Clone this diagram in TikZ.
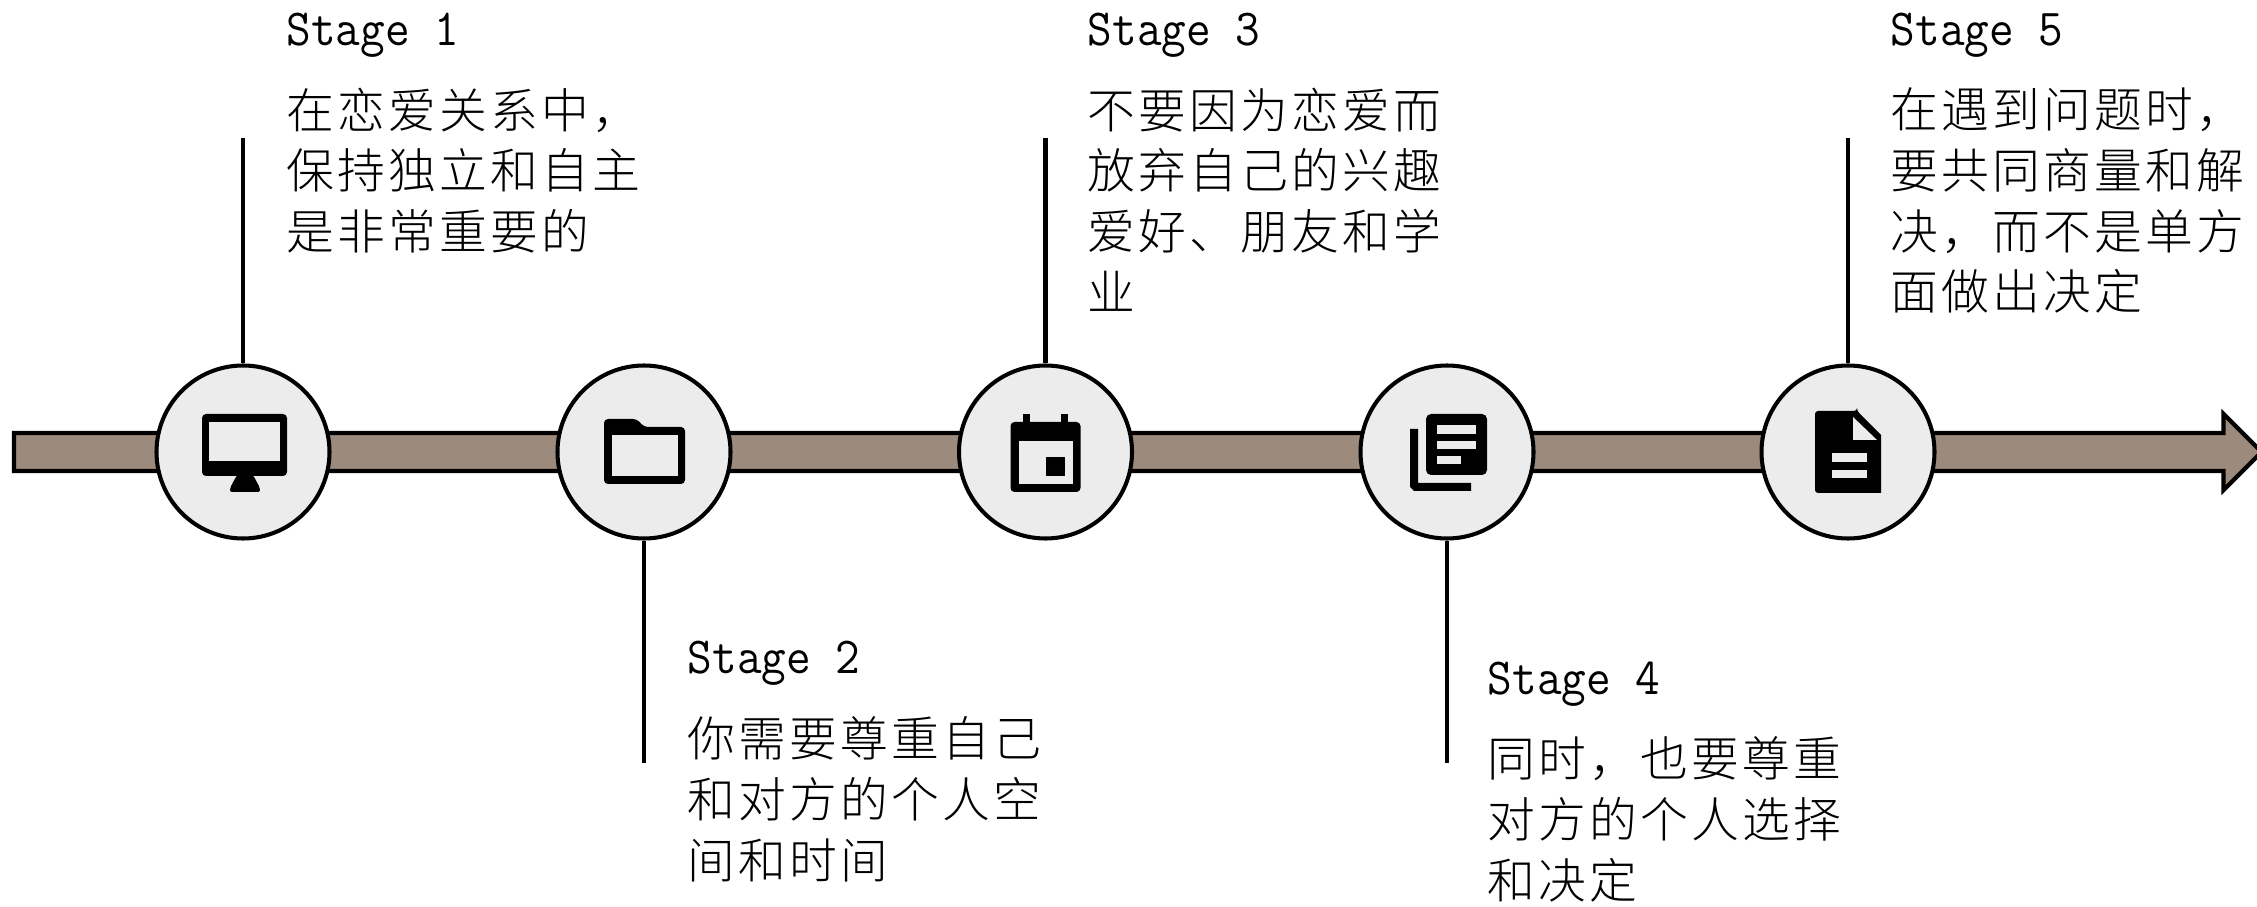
\documentclass[tikz,border=0pt]{standalone}
\usepackage{fontspec}
\newfontfamily\cjk[LetterSpace = 6.8]{Noto Sans CJK SC Light}
\newfontfamily\stagefont[FakeStretch = 0.92]{Latin Modern Mono}
\definecolor{barbrown}{HTML}{9C8B7C}
\definecolor{discgray}{HTML}{ECECEC}
\tikzset{
	disc/.style = {circle, draw, fill = discgray, line width = 1.15pt, minimum size = 1.73cm, inner sep = 0},
	stem/.style = {line width = 1.15pt},
	stagelabel/.style = {anchor = base west, inner sep = 0, font = \fontsize{14.8}{17}\selectfont\stagefont},
	bodytext/.style = {anchor = north west, inner sep = 0, align = left, font = \fontsize{13.6}{17.3}\selectfont\cjk},
	icon/.style = {x = 1mm, y = 1mm},
	hole/.style = {fill = discgray}
}

\begin{document}
\begin{tikzpicture}[> = latex]

	\useasboundingbox (0, 0) rectangle (22.57, 9.06);

	% Bar with arrow head

	\draw [fill = barbrown, line width = 1.2pt, line join = miter] (0.14, 4.35) -- (22.235, 4.35) -- (22.235, 4.16) -- (22.615, 4.54) -- (22.235, 4.92) -- (22.235, 4.73) -- (0.14, 4.73) -- cycle;

	% Discs

	\node [disc] (c1) at (2.43, 4.54) {};
	\node [disc] (c2) at (6.44, 4.54) {};
	\node [disc] (c3) at (10.455, 4.54) {};
	\node [disc] (c4) at (14.47, 4.54) {};
	\node [disc] (c5) at (18.48, 4.54) {};

	% Stems

	\coordinate (t1) at (2.43, 7.68);
	\coordinate (t2) at (6.44, 1.43);
	\coordinate (t3) at (10.455, 7.68);
	\coordinate (t4) at (14.47, 1.43);
	\coordinate (t5) at (18.48, 7.68);

	\draw [stem] (c1.north) -- (t1);
	\draw [stem] (c2.south) -- (t2);
	\draw [stem] (c3.north) -- (t3);
	\draw [stem] (c4.south) -- (t4);
	\draw [stem] (c5.north) -- (t5);

	% Labels

	\node [stagelabel] (s1) at (2.86, 8.60) {Stage 1};
	\node [stagelabel] (s2) at (6.87, 2.33) {Stage 2};
	\node [stagelabel] (s3) at (10.87, 8.60) {Stage 3};
	\node [stagelabel] (s4) at (14.87, 2.11) {Stage 4};
	\node [stagelabel] (s5) at (18.90, 8.60) {Stage 5};

	\node [bodytext] (b1) at (2.86, 8.19) {在恋爱关系中，\\保持独立和自主\\是非常重要的};
	\node [bodytext] (b2) at (6.87, 1.90) {你需要尊重自己\\和对方的个人空\\间和时间};
	\node [bodytext] (b3) at (10.87, 8.19) {不要因为恋爱而\\放弃自己的兴趣\\爱好、朋友和学\\业};
	\node [bodytext] (b4) at (14.87, 1.70) {同时，也要尊重\\对方的个人选择\\和决定};
	\node [bodytext] (b5) at (18.90, 8.19) {在遇到问题时，\\要共同商量和解\\决，而不是单方\\面做出决定};

	% Monitor

	\begin{scope} [shift = {(c1)}, icon]
		\fill [rounded corners = 0.4mm] (-4.1, 3.8) rectangle (4.4, -2.4);
		\fill [hole] (-3.4, 3.0) rectangle (3.7, -0.9);
		\fill [rounded corners = 0.2mm] (-0.6, -2.3) -- (1.0, -2.3) -- (1.7, -3.6) -- (1.7, -4.0) -- (-1.3, -4.0) -- (-1.3, -3.6) -- cycle;
	\end{scope}

	% Folder

	\begin{scope} [shift = {(c2)}, icon]
		\fill [rounded corners = 0.4mm] (-4.0, 3.3) -- (-0.7, 3.3) -- (0, 2.5) -- (4.1, 2.5) -- (4.1, -3.2) -- (-4.0, -3.2) -- cycle;
		\fill [hole] (-3.2, 1.7) rectangle (3.35, -2.4);
	\end{scope}

	% Calendar

	\begin{scope} [shift = {(c3)}, icon]
		\fill [rounded corners = 0.4mm] (-3.5, 3.0) rectangle (3.5, -4.0);
		\fill (-2.3, 3.8) rectangle (-1.6, 2.8);
		\fill (1.5, 3.8) rectangle (2.2, 2.8);
		\fill [hole] (-2.7, 1.1) rectangle (2.7, -3.2);
		\fill (0, -0.5) rectangle (1.9, -2.4);
	\end{scope}

	% Stacked document

	\begin{scope} [shift = {(c4)}, icon]
		\fill [rounded corners = 0.5mm] (-2.1, 3.8) rectangle (4.0, -2.3);
		\fill [hole] (-1.05, 2.7) rectangle (2.9, 1.8);
		\fill [hole] (-1.05, 1.1) rectangle (2.9, 0.3);
		\fill [hole] (-1.05, -0.4) rectangle (1.35, -1.2);
		\fill (-3.7, 2.3) -- (-2.9, 2.3) -- (-2.9, -3.1) -- (2.4, -3.1) -- (2.4, -3.9) -- (-3.3, -3.9) -- (-3.7, -3.5) -- cycle;
	\end{scope}

	% File

	\begin{scope} [shift = {(c5)}, icon]
		\fill [rounded corners = 0.3mm] (-3.3, 4.1) -- (0.9, 4.1) -- (0.9, 4.1) [sharp corners] -- (3.3, 1.7) -- (3.3, -4.1) [rounded corners = 0.3mm] -- (-3.3, -4.1) -- cycle;
		\fill [hole] (0.5, 3.5) -- (0.5, 1.2) -- (2.9, 1.2) -- cycle;
		\fill [hole] (-1.6, -0.1) rectangle (1.9, -1.0);
		\fill [hole] (-1.6, -1.8) rectangle (1.9, -2.6);
	\end{scope}

\end{tikzpicture}
\end{document}
